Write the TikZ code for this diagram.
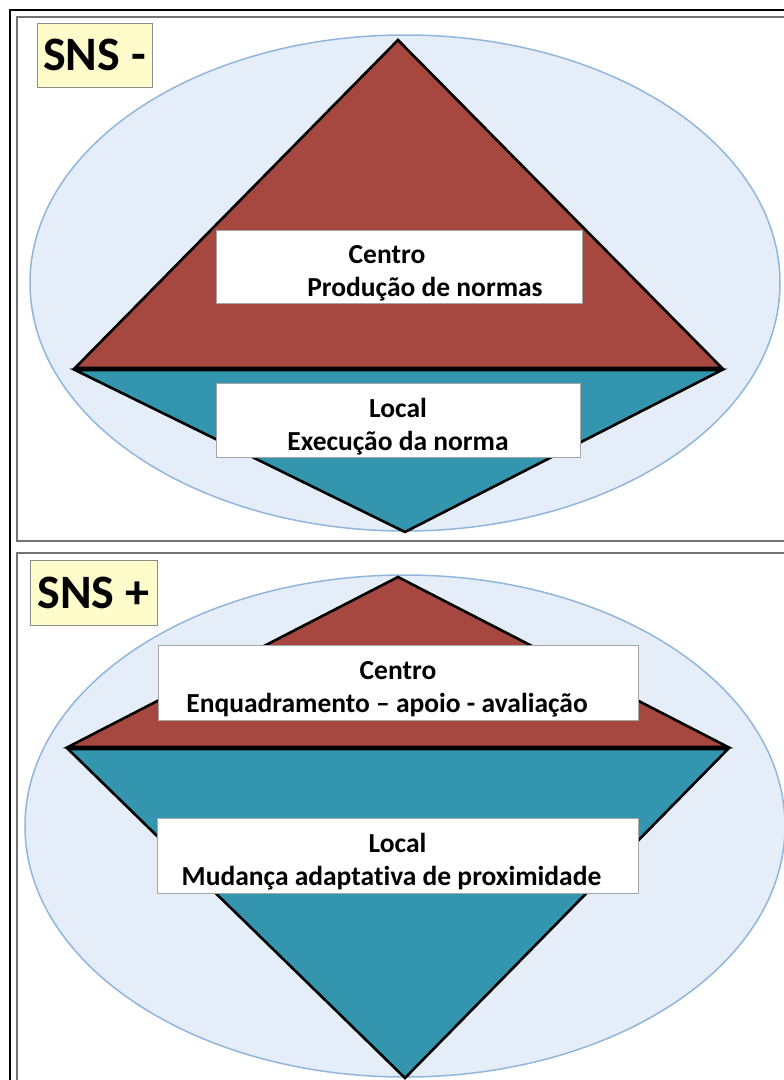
\documentclass[tikz,border=0pt]{standalone}
\usepackage{fontspec}
\setmainfont{Carlito}[Ligatures={TeX,NoCommon}]
\usetikzlibrary{positioning}
\definecolor{normred}{RGB}{166,71,64}
\definecolor{normteal}{RGB}{52,149,174}
\definecolor{ovalfill}{RGB}{229,237,248}
\definecolor{ovalline}{RGB}{145,182,222}
\definecolor{tagfill}{RGB}{255,252,204}
\newcommand{\boxstrut}{\rule{0pt}{32pt}}
\tikzset{oval/.style = {fill=ovalfill, draw=ovalline, line width=1.5pt}}
\tikzset{wedge/.style = {draw=black, line width=2.6pt, line join=miter}}
\tikzset{textbox/.style = {draw=black!35, fill=white, line width=1pt, align=center,
                           inner sep=0pt, font=\bfseries\fontsize{27.5}{33}\selectfont}}
\tikzset{tag/.style = {draw=black!45, fill=tagfill, line width=1pt, inner sep=0pt,
                       font=\bfseries\fontsize{48}{48}\selectfont}}
\tikzset{panel/.style = {draw=black!55, line width=2pt}}

\begin{document}
\begin{tikzpicture}[x=1pt, y=-1pt]
    \clip (0, 0) rectangle (784, 1080);
    \fill [white] (0, 0) rectangle (784, 1080);
    \draw [line width=2pt] (10, 10) rectangle (800, 1100);

    % SNS -
    \draw [panel] (17, 17) rectangle (800, 541);
    \draw [oval] (405, 283) ellipse [x radius=375, y radius=248];
    \draw [wedge, fill=normteal] (75, 370) -- (722, 370) -- (405, 532) -- cycle;
    \draw [wedge, fill=normred] (398, 40) -- (75, 368) -- (722, 368) -- cycle;
    \node [textbox, minimum width=366pt, minimum height=73pt] (centroA) at (399, 266.5)
      {\boxstrut\hspace*{-24pt}Centro\\\hspace*{52pt}Produção de normas};
    \node [textbox, minimum width=364pt, minimum height=74pt] (localA) at (398, 420)
      {\boxstrut Local\\Execução da norma};
    \node [tag, minimum width=115pt, minimum height=64pt] (signA) at (94.5, 55) {SNS -};

    % SNS +
    \draw [panel] (17, 553) rectangle (800, 1100);
    \draw [oval] (405, 826) ellipse [x radius=380, y radius=251];
    \draw [wedge, fill=normteal] (68, 749) -- (728, 749) -- (405, 1078) -- cycle;
    \draw [wedge, fill=normred] (398, 577) -- (68, 747) -- (728, 747) -- cycle;
    \node [textbox, minimum width=480pt, minimum height=75pt] (centroB) at (398, 682.5)
      {\boxstrut Centro\\Enquadramento -- apoio - avaliação\hspace*{22pt}};
    \node [textbox, minimum width=481pt, minimum height=75pt] (localB) at (397.5, 855.5)
      {\boxstrut Local\\Mudança adaptativa de proximidade\hspace*{12pt}};
    \node [tag, minimum width=127pt, minimum height=65pt] (signB) at (93.5, 592.5) {SNS +};
\end{tikzpicture}
\end{document}
